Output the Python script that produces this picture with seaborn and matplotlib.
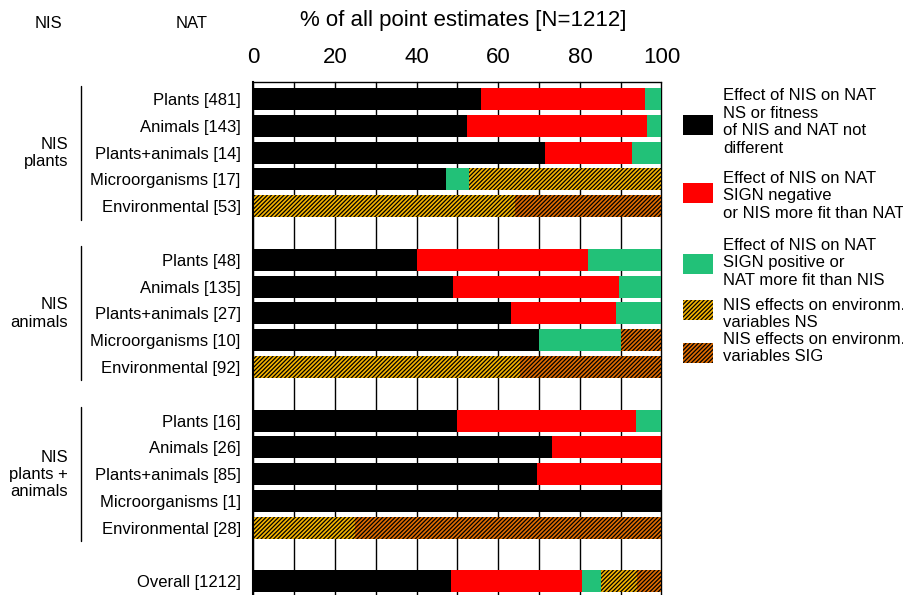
import matplotlib
matplotlib.use("Agg")
import matplotlib.pyplot as plt
import matplotlib.transforms as mtransforms
from matplotlib.patches import Rectangle
from matplotlib.lines import Line2D
import seaborn as sns
import pandas as pd

# Rows of the chart (top to bottom); None marks an empty spacer row
row_labels = [
    "Plants [481]", "Animals [143]", "Plants+animals [14]", "Microorganisms [17]", "Environmental [53]", None,
    "Plants [48]", "Animals [135]", "Plants+animals [27]", "Microorganisms [10]", "Environmental [92]", None,
    "Plants [16]", "Animals [26]", "Plants+animals [85]", "Microorganisms [1]", "Environmental [28]", None,
    "Overall [1212]",
]

# Percent of point estimates per outcome class (data rows only)
ns_not_diff = [55.7, 52.4, 71.4, 47.1, 0.0,
               40.0, 48.9, 63.0, 70.0, 0.0,
               50.0, 73.1, 69.4, 100.0, 0.0,
               48.4]
sign_negative = [40.3, 44.1, 21.4, 0.0, 0.0,
                 42.0, 40.7, 25.9, 0.0, 0.0,
                 43.75, 26.9, 30.6, 0.0, 0.0,
                 32.1]
sign_positive = [4.0, 3.5, 7.2, 5.8, 0.0,
                 18.0, 10.4, 11.1, 20.0, 0.0,
                 6.25, 0.0, 0.0, 0.0, 0.0,
                 4.7]
env_ns = [0.0, 0.0, 0.0, 47.1, 64.2,
          0.0, 0.0, 0.0, 0.0, 65.2,
          0.0, 0.0, 0.0, 0.0, 25.0,
          8.8]
env_sig = [0.0, 0.0, 0.0, 0.0, 35.8,
           0.0, 0.0, 0.0, 10.0, 34.8,
           0.0, 0.0, 0.0, 0.0, 75.0,
           6.0]

group_labels = ["NIS\nplants", "NIS\nanimals", "NIS\nplants +\nanimals"]

legend_labels = [
    "Effect of NIS on NAT\nNS or fitness\nof NIS and NAT not\ndifferent",
    "Effect of NIS on NAT\nSIGN negative\nor NIS more fit than NAT",
    "Effect of NIS on NAT\nSIGN positive or\nNAT more fit than NIS",
    "NIS effects on environm.\nvariables NS",
    "NIS effects on environm.\nvariables SIG",
]

C_BLACK = "#000000"
C_RED = "#FF0000"
C_GREEN = "#22C178"
C_NS = "#F5B400"
C_SIG = "#E06C00"
HATCH = "////////"

sns.set_style("white")
plt.rcParams["font.family"] = ["Liberation Sans", "DejaVu Sans"]
plt.rcParams["hatch.linewidth"] = 0.9
plt.rcParams["hatch.color"] = "black"
for key in ("text.color", "axes.labelcolor", "xtick.color", "ytick.color"):
    plt.rcParams[key] = "black"

# category order including spacer rows
order = []
gap = 0
for lab in row_labels:
    if lab is None:
        gap += 1
        order.append(" " * gap)
    else:
        order.append(lab)
data_rows = [lab for lab in row_labels if lab is not None]

df = pd.DataFrame({
    "row": data_rows,
    "ns_not_diff": ns_not_diff,
    "sign_negative": sign_negative,
    "sign_positive": sign_positive,
    "env_ns": env_ns,
    "env_sig": env_sig,
})
series = ["ns_not_diff", "sign_negative", "sign_positive", "env_ns", "env_sig"]
cum = df[series].cumsum(axis=1)

W, H = 904, 595
fig = plt.figure(figsize=(W / 100, H / 100), dpi=100)
ax_left, ax_right, ax_top = 253.5, 661.5, 82
ax = fig.add_axes([ax_left / W, 0, (ax_right - ax_left) / W, (H - ax_top) / H])

styles = {
    "ns_not_diff": dict(color=C_BLACK),
    "sign_negative": dict(color=C_RED),
    "sign_positive": dict(color=C_GREEN),
    "env_ns": dict(color=C_NS, hatch=HATCH),
    "env_sig": dict(color=C_SIG, hatch=HATCH),
}

# stacked bars: draw cumulative totals from the outermost layer inwards
for s in reversed(series):
    sns.barplot(x=cum[s], y=df["row"], order=order, orient="h", ax=ax,
                width=0.82, saturation=1, linewidth=0, edgecolor="black",
                errorbar=None, **styles[s])

ax.set_xlim(0, 100)
ax.set_ylim(18.504, -0.634)
ax.set_xlabel("")
ax.set_ylabel("")

ax.xaxis.tick_top()
ax.set_xticks(range(0, 101, 10))
ax.set_xticklabels([str(v) if v % 20 == 0 else "" for v in range(0, 101, 10)])
ax.tick_params(axis="x", length=0, pad=10, labelsize=16)
ax.set_yticks(range(len(order)))
ax.set_yticklabels([lab if lab is not None else "" for lab in row_labels])
ax.tick_params(axis="y", length=0, pad=9.2, labelsize=12)

ax.set_axisbelow(True)
ax.grid(axis="x", color="black", linewidth=1.0)
ax.grid(axis="y", visible=False)
for gl in ax.get_xgridlines():
    gl.set_clip_on(False)

for side in ("right", "bottom"):
    ax.spines[side].set_visible(False)
ax.spines["left"].set_color("black")
ax.spines["left"].set_linewidth(1.5)
ax.spines["top"].set_color("black")
ax.spines["top"].set_linewidth(1.0)

fig.text(463 / W, 1 - 26 / H, "% of all point estimates [N=1212]",
         ha="center", va="baseline", fontsize=16)
fig.text(48 / W, 1 - 23 / H, "NIS", ha="center", va="center", fontsize=12)
fig.text(191.7 / W, 1 - 23 / H, "NAT", ha="center", va="center", fontsize=12)

# group labels and brackets on the left
blend = mtransforms.blended_transform_factory(fig.transFigure, ax.transData)
for i, glab in enumerate(group_labels):
    start = i * 6
    ax.text(68.3 / W, start + 2, glab, transform=blend, ha="right", va="center",
            multialignment="right", fontsize=12, linespacing=1.18)
    ax.add_line(Line2D([81 / W, 81 / W], [start - 0.5, start + 4.5], transform=blend,
                       color="black", linewidth=1.0, clip_on=False))

# legend
legend_styles = [styles[s] for s in series]
patch_centers = [125, 193, 264, 310, 353]
text_centers = [122, 196, 263, 314, 348]
for lab, st, pc, tc in zip(legend_labels, legend_styles, patch_centers, text_centers):
    fig.add_artist(Rectangle((683 / W, 1 - (pc + 10) / H), 30 / W, 20 / H,
                             transform=fig.transFigure, facecolor=st["color"],
                             edgecolor="black", linewidth=0, hatch=st.get("hatch")))
    fig.text(723 / W, 1 - tc / H, lab, ha="left", va="center", fontsize=12,
             linespacing=1.2)

fig.savefig("out.png", dpi=100)
